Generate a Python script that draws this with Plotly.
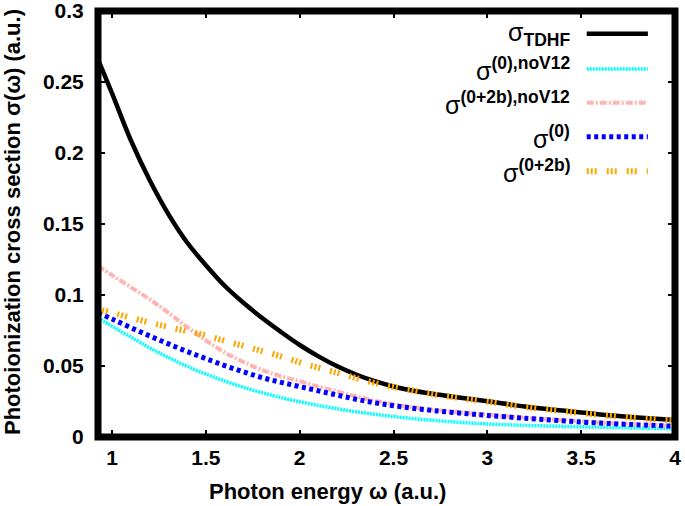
import plotly.graph_objects as go

# ---- data ----
omega = [0.925, 1.0, 1.1, 1.2, 1.3, 1.4, 1.5, 1.6, 1.7, 1.8, 1.9, 2.0, 2.1, 2.2, 2.3, 2.4, 2.5,
         2.6, 2.7, 2.8, 2.9, 3.0, 3.2, 3.4, 3.6, 3.8, 4.0]

sigma_tdhf = [0.266, 0.242, 0.209, 0.181, 0.157, 0.137, 0.121, 0.1065, 0.0945, 0.0838, 0.0740, 0.0648,
              0.0568, 0.0498, 0.0440, 0.0393, 0.0356, 0.0328, 0.0306, 0.0287, 0.0269, 0.0252, 0.0215,
              0.0186, 0.0159, 0.0138, 0.0119]

sigma_0_nov12 = [0.0840, 0.0780, 0.0703, 0.0628, 0.0560, 0.0498, 0.0443, 0.0394, 0.0350, 0.0312, 0.0278,
                 0.0248, 0.0222, 0.0199, 0.0178, 0.0160, 0.0144, 0.0130, 0.0118, 0.0108, 0.0099, 0.0092,
                 0.0082, 0.0075, 0.0069, 0.0063, 0.0058]

sigma_02b_nov12 = [0.1205, 0.1140, 0.1055, 0.0970, 0.0875, 0.0775, 0.0680, 0.0595, 0.0528, 0.0472, 0.0428,
                   0.0393, 0.0354, 0.0320, 0.0286, 0.0255, 0.0230, 0.0210, 0.0194, 0.0180, 0.0168, 0.0157,
                   0.0136, 0.0118, 0.0102, 0.0089, 0.0079]

sigma_0 = [0.0875, 0.0831, 0.0770, 0.0712, 0.0656, 0.0602, 0.0552, 0.0503, 0.0459, 0.0418, 0.0385,
           0.0355, 0.0325, 0.0295, 0.0266, 0.0241, 0.0220, 0.0203, 0.0188, 0.0175, 0.0163, 0.0152,
           0.0132, 0.0114, 0.0098, 0.0086, 0.0076]

sigma_02b = [0.0900, 0.0875, 0.0840, 0.0806, 0.0775, 0.0745, 0.0715, 0.0677, 0.0641, 0.0605, 0.0568,
             0.0525, 0.0488, 0.0452, 0.0415, 0.0380, 0.0352, 0.0328, 0.0303, 0.0284, 0.0266, 0.0249,
             0.0212, 0.0183, 0.0155, 0.0134, 0.0116]

x_ticks = [1, 1.5, 2, 2.5, 3, 3.5, 4]
x_tick_labels = ["1", "1.5", "2", "2.5", "3", "3.5", "4"]
y_ticks = [0, 0.05, 0.1, 0.15, 0.2, 0.25, 0.3]
y_tick_labels = ["0", "0.05", "0.1", "0.15", "0.2", "0.25", "0.3"]

x_title = "<b>Photon energy ω (a.u.)</b>"
y_title = "<b>Photoionization cross section σ(ω) (a.u.)</b>"

legend_labels = [
    "σ<sub><b>TDHF</b></sub>",
    "σ<sup><b>(0),noV12</b></sup>",
    "σ<sup><b>(0+2b),noV12</b></sup>",
    "σ<sup><b>(0)</b></sup>",
    "σ<sup><b>(0+2b)</b></sup>",
]

styles = [
    dict(color="black", width=4.5, dash="solid"),
    dict(color="#00ffff", width=3.5, dash="2px,1px"),
    dict(color="#ffb4b4", width=4, dash="7px,2px,2px,2px"),
    dict(color="#0000ff", width=5, dash="4px,3.5px"),
    dict(color="#ffa500", width=6, dash="2px,2px,2px,2px,2px,10px"),
]

series = [sigma_tdhf, sigma_0_nov12, sigma_02b_nov12, sigma_0, sigma_02b]

FONT = "Liberation Sans"

fig = go.Figure()
for ys, st in zip(series, styles):
    fig.add_trace(go.Scatter(x=omega, y=ys, mode="lines", line=dict(shape="spline", smoothing=1.0, **st),
                             showlegend=False, hoverinfo="skip"))

# custom legend (text on the left, sample on the right)
leg_y = [0.9465, 0.864, 0.7845, 0.7047, 0.624]
for lab, st, yy in zip(legend_labels, styles, leg_y):
    fig.add_annotation(xref="paper", yref="paper", x=0.822, y=yy, xanchor="right", yanchor="middle",
                       text=lab, showarrow=False, font=dict(family=FONT, size=25, color="black"))
    fig.add_shape(type="line", xref="paper", yref="paper", x0=0.847, x1=0.953, y0=yy, y1=yy,
                  line=dict(color=st["color"], width=st["width"], dash=st["dash"]))

# axis titles
fig.add_annotation(xref="paper", yref="paper", x=0.397, y=-0.128, xanchor="center", yanchor="middle",
                   text=x_title, showarrow=False, font=dict(family=FONT, size=22, color="black"))
fig.add_annotation(xref="paper", yref="paper", x=-0.1473, y=0.5047, xanchor="center", yanchor="middle",
                   text=y_title, textangle=-90, showarrow=False,
                   font=dict(family=FONT, size=22, color="black"))

# thick frame
fig.add_shape(type="rect", xref="paper", yref="paper", x0=0, x1=1, y0=0, y1=1,
              line=dict(color="black", width=7), layer="above")

axis_common = dict(ticks="inside", ticklen=7, tickwidth=2, tickcolor="black", showline=True,
                   linecolor="black", linewidth=1, mirror="ticks", showgrid=False, zeroline=False,
                   automargin=False, ticklabeloverflow="allow",
                   tickfont=dict(family=FONT, size=21, color="black", weight="bold"))

fig.update_xaxes(range=[0.925, 4.0001], tickvals=x_ticks, ticktext=x_tick_labels, ticklabelstandoff=2,
                 **axis_common)
fig.update_yaxes(range=[0, 0.30001], tickvals=y_ticks, ticktext=y_tick_labels, ticklabelstandoff=9,
                 **axis_common)

fig.update_layout(width=685, height=506, margin=dict(l=98, r=10, t=11, b=69, autoexpand=False),
                  paper_bgcolor="white", plot_bgcolor="white", font=dict(family=FONT, color="black"))

fig.write_html("out.html", config={"displayModeBar": False},
               post_script="document.body.style.margin='0px';")
